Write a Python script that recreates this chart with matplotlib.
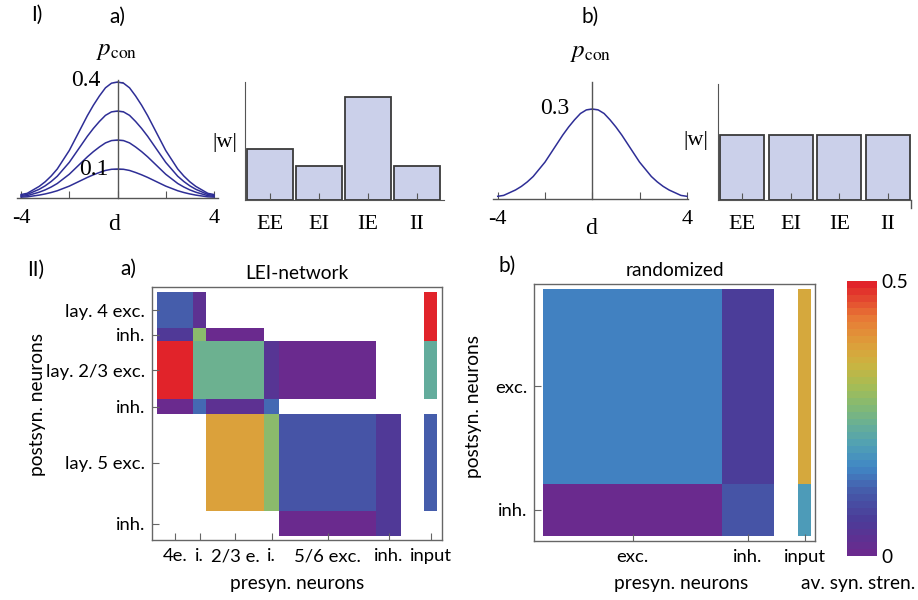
import numpy as np
import matplotlib.pyplot as plt
from matplotlib.colors import LinearSegmentedColormap

plt.rcParams['font.family'] = ['Lato', 'DejaVu Sans']
plt.rcParams['mathtext.fontset'] = 'stix'

W, H = 918, 600

# ---------------- data ----------------
# connection probability profile (normalised), read at d = 0 ... 4, mirrored
d_half = [0, 0.25, 0.5, 0.75, 1.0, 1.25, 1.5, 1.75, 2.0, 2.25, 2.5, 2.75, 3.0, 3.25, 3.5, 3.75, 4.0]
profile_half = [1.0, 0.99, 0.95, 0.88, 0.80, 0.71, 0.61, 0.51, 0.41, 0.33, 0.25, 0.19, 0.14, 0.10, 0.07, 0.04, 0.03]
pcon_peaks_a = [0.1, 0.2, 0.3, 0.4]
pcon_peak_b = 0.3

syn_types = ["EE", "EI", "IE", "II"]
w_a = [1.5, 1.0, 3.0, 1.0]
w_b = [1.0, 1.0, 1.0, 1.0]

# LEI network: populations (post = rows, pre = columns)
pops_a = ["lay. 4 exc.", "inh.", "lay. 2/3 exc.", "inh.", "lay. 5 exc.", "inh."]
pre_labels_a = ["4e.", "i.", "2/3 e.", "i.", "5/6 exc.", "inh.", "input"]
sizes_a = [36, 13, 58, 15, 97, 25]
nan = np.nan
weights_a = [
    [0.12,  0.03,  nan,   nan,   nan,   nan],
    [0.05,  0.28,  0.005, nan,   nan,   nan],
    [0.5,   0.245, 0.245, 0.04,  0.005, nan],
    [0.0,   0.13,  0.025, 0.135, nan,   nan],
    [nan,   nan,   0.385, 0.28,  0.105, 0.05],
    [nan,   nan,   nan,   nan,   0.005, 0.05],
]
input_a = [0.5, 0.5, 0.225, nan, 0.12, nan]

# randomized network
pops_b = ["exc.", "inh."]
pre_labels_b = ["exc.", "inh.", "input"]
pre_sizes_b = [179, 52]
post_sizes_b = [195, 52]
weights_b = [
    [0.15, 0.065],
    [0.0,  0.11],
]
input_b = [0.365, 0.195]

# colour scale (av. syn. strength 0 ... 0.5)
cmap_pos = [0.0, 0.12, 0.22, 0.32, 0.40, 0.47, 0.55, 0.62, 0.70, 0.78, 0.87, 1.0]
cmap_cols = ["#6a2a8e", "#4c3b98", "#4558a8", "#4187c5", "#50a0b5", "#66ae98",
             "#84ba72", "#a5bc55", "#cbb440", "#de9e3a", "#e77a36", "#e1232a"]
cmap = LinearSegmentedColormap.from_list("syn", list(zip(cmap_pos, cmap_cols)), N=40)

# ---------------- helpers ----------------
fig = plt.figure(figsize=(W / 100, H / 100), dpi=100)


def px_axes(l, t, r, b):
    return fig.add_axes([l / W, 1 - b / H, (r - l) / W, (b - t) / H])


def ftext(x, y, s, **kw):
    kw.setdefault('ha', 'center')
    kw.setdefault('va', 'center')
    fig.text(x / W, 1 - y / H, s, **kw)


serif = {'family': 'Liberation Serif'}
axcol = '#555555'
curve_col = '#2e2e96'
bar_col = '#cbd0ea'
sans_size = 13.3

d = np.array([-x for x in d_half[::-1]] + d_half[1:])
prof = np.array(profile_half[::-1] + profile_half[1:])


def gauss_axes(ax, xlim, ylim, yticks):
    ax.set_xlim(*xlim)
    ax.set_ylim(*ylim)
    for s in ['top', 'right']:
        ax.spines[s].set_visible(False)
    ax.spines['left'].set_position(('data', 0))
    for s in ['left', 'bottom']:
        ax.spines[s].set_color(axcol)
        ax.spines[s].set_linewidth(1.0)
    ax.set_xticks([-4, -2, 0, 2, 4], ["-4", "", "", "", "4"])
    ax.tick_params(axis='x', direction='in', length=5, pad=8, color=axcol,
                   labelsize=16, labelfontfamily='Liberation Serif')
    ax.set_yticks(yticks, [""] * len(yticks))
    ax.tick_params(axis='y', direction='inout', length=7, color=axcol)
    ax.patch.set_visible(False)


def bar_axes(ax, vals, xlim, ylim, width):
    ax.bar(range(len(vals)), vals, width=width, color=bar_col,
           edgecolor='#3a3a3a', linewidth=1.3)
    ax.set_xlim(*xlim)
    ax.set_ylim(*ylim)
    for s in ['top', 'right']:
        ax.spines[s].set_visible(False)
    for s in ['left', 'bottom']:
        ax.spines[s].set_color(axcol)
    ax.set_yticks([])
    ax.set_xticks(range(len(vals)), syn_types)
    ax.tick_params(axis='x', direction='in', length=5, pad=11, color=axcol,
                   labelsize=16, labelfontfamily='Liberation Serif')
    ax.patch.set_visible(False)


def matrix_axes(ax, x_edges, y_edges, M, xticks, xlabels, yticks, ylabels, xlim, ylim):
    mesh = ax.pcolormesh(x_edges, y_edges, np.ma.masked_invalid(M),
                         cmap=cmap, vmin=0, vmax=0.5)
    ax.set_xlim(*xlim)
    ax.set_ylim(*ylim)
    for s in ax.spines.values():
        s.set_color('#666666')
        s.set_linewidth(1.0)
    ax.set_xticks(xticks, xlabels)
    ax.set_yticks(yticks, ylabels)
    ax.tick_params(direction='in', length=5, color='#666666', labelsize=sans_size)
    ax.tick_params(axis='x', pad=6)
    ax.tick_params(axis='y', pad=5)
    ax.tick_params(top=False, right=False)
    return mesh


# ---------------- I a) ----------------
ax = px_axes(17, 80, 218, 198)
for pk in pcon_peaks_a:
    ax.plot(d, pk * prof, color=curve_col, lw=1.1, clip_on=False)
gauss_axes(ax, (-4.17, 4.17), (0, 0.407), [0.1, 0.2, 0.3, 0.4])
ax.text(-0.7, 0.405, "0.4", ha='right', va='center', fontsize=17, **serif)
ax.text(-0.36, 0.097, "0.1", ha='right', va='center', fontsize=17, **serif)
ftext(117, 50, r"$p_{\rm con}$", fontsize=18)
ftext(114, 224, "d", fontsize=17, **serif)

ax = px_axes(245, 82, 444, 200)
bar_axes(ax, w_a, (-0.51, 3.55), (0, 3.44), 0.92)
ftext(225, 142, "|w|", fontsize=16, **serif)

# ---------------- I b) ----------------
ax = px_axes(493, 82, 688, 199)
ax.plot(d, pcon_peak_b * prof, color=curve_col, lw=1.1, clip_on=False)
gauss_axes(ax, (-4.2, 4.05), (0, 0.39), [0.3])
ax.text(-0.97, 0.30, "0.3", ha='right', va='center', fontsize=17, **serif)
ftext(591, 52, r"$p_{\rm con}$", fontsize=18)
ftext(591, 229, "d", fontsize=17, **serif)

ax = px_axes(718, 84, 911, 200)
bar_axes(ax, w_b, (-0.49, 3.47), (0, 1.78), 0.9)
ax.plot([3.47, 3.47], [0, -0.12], color=axcol, lw=1.0, clip_on=False)
ftext(696, 140, "|w|", fontsize=16, **serif)

# ---------------- II a) ----------------
gap_a, in_w_a = 23, 13
edges_a = np.concatenate([[0], np.cumsum(sizes_a)])
x_edges_a = np.concatenate([edges_a, [edges_a[-1] + gap_a, edges_a[-1] + gap_a + in_w_a]])
M_a = np.hstack([np.array(weights_a), np.full((len(sizes_a), 1), nan),
                 np.array(input_a)[:, None]])
ctr_a = (edges_a[:-1] + edges_a[1:]) / 2
xt_a = list(ctr_a) + [(x_edges_a[-2] + x_edges_a[-1]) / 2]
ax = px_axes(152, 287, 442, 540)
matrix_axes(ax, x_edges_a, edges_a, M_a, xt_a, pre_labels_a, ctr_a, pops_a,
            (-5, 285), (248, -5))
ax.set_title("LEI-network", fontsize=sans_size + 0.5, pad=6)
ftext(297, 584, "presyn. neurons", fontsize=sans_size + 0.5)
ftext(37, 405, "postsyn. neurons", fontsize=sans_size + 0.5, rotation=90)

# ---------------- II b) ----------------
gap_b, in_w_b = 24, 13
xe_b = np.concatenate([[0], np.cumsum(pre_sizes_b)])
x_edges_b = np.concatenate([xe_b, [xe_b[-1] + gap_b, xe_b[-1] + gap_b + in_w_b]])
y_edges_b = np.concatenate([[0], np.cumsum(post_sizes_b)])
M_b = np.hstack([np.array(weights_b), np.full((2, 1), nan), np.array(input_b)[:, None]])
xt_b = list((xe_b[:-1] + xe_b[1:]) / 2) + [(x_edges_b[-2] + x_edges_b[-1]) / 2]
yt_b = (y_edges_b[:-1] + y_edges_b[1:]) / 2
ax = px_axes(534, 284, 815, 541)
mesh = matrix_axes(ax, x_edges_b, y_edges_b, M_b, xt_b, pre_labels_b, yt_b, pops_b,
                   (-9, 272), (252, -5))
ax.set_title("randomized", fontsize=sans_size + 0.5, pad=6)
ftext(681, 583, "presyn. neurons", fontsize=sans_size + 0.5)
ftext(473, 406, "postsyn. neurons", fontsize=sans_size + 0.5, rotation=90)

# colour bar
cax = px_axes(847, 281, 877, 556)
cb = fig.colorbar(mesh, cax=cax)
cb.outline.set_visible(False)
cb.set_ticks([0, 0.5], labels=["0", "0.5"])
cax.tick_params(length=0, labelsize=sans_size + 0.5, pad=3)
ftext(858, 583, "av. syn. stren.", fontsize=sans_size + 0.5)

# panel labels
ftext(37, 15, "I)", fontsize=15)
ftext(117, 17, "a)", fontsize=15)
ftext(590, 17, "b)", fontsize=15)
ftext(36, 270, "II)", fontsize=15)
ftext(128, 269, "a)", fontsize=15)
ftext(507, 266, "b)", fontsize=15)

fig.savefig("out.png", dpi=100)
